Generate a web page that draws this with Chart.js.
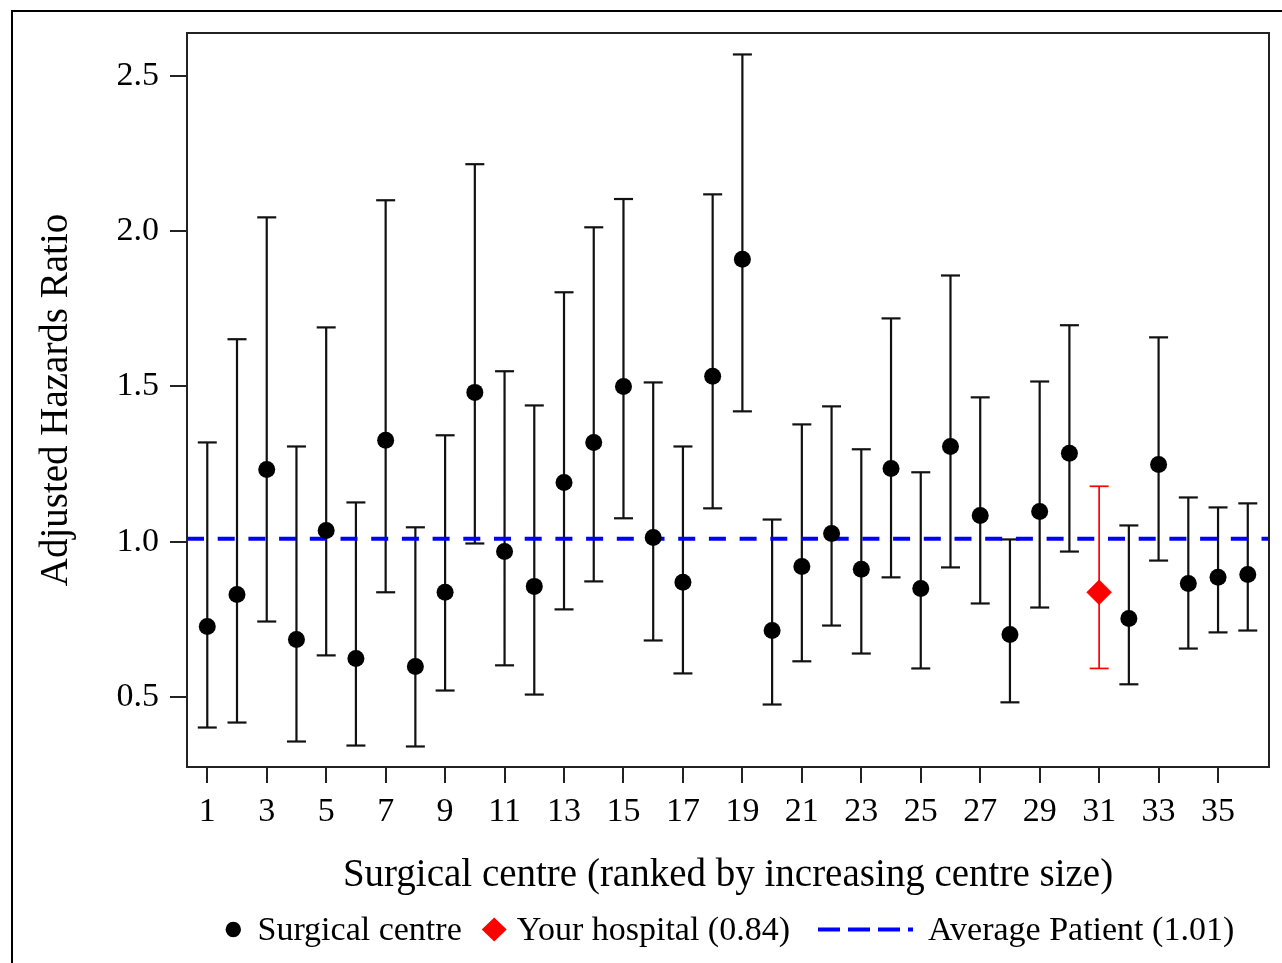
<!DOCTYPE html>
<html>
<head>
<meta charset="utf-8">
<script src="https://cdn.jsdelivr.net/npm/chart.js@4.4.0/dist/chart.umd.min.js"></script>
<style>
html,body{margin:0;padding:0;background:#fff;overflow:hidden;width:1282px;height:963px;}
#frame{position:absolute;left:11px;top:10px;width:1400px;height:1100px;border:2px solid #000;box-sizing:border-box;}
#wrap{position:absolute;left:0;top:0;width:1282px;height:963px;}
</style>
</head>
<body>
<div id="frame"></div>
<div id="wrap"><canvas id="c" width="1282" height="963"></canvas></div>
<script>
// ---- data ----
const centres = [1,2,3,4,5,6,7,8,9,10,11,12,13,14,15,16,17,18,19,20,21,22,23,24,25,26,27,28,29,30,31,32,33,34,35,36];
const hazardRatio = [0.728,0.831,1.233,0.686,1.037,0.625,1.327,0.599,0.838,1.481,0.969,0.857,1.191,1.320,1.500,1.014,0.870,1.533,1.909,0.715,0.921,1.027,0.912,1.236,0.850,1.307,1.085,0.702,1.098,1.285,0.838,0.754,1.249,0.866,0.886,0.895];
const lowerCI = [0.403,0.419,0.744,0.358,0.635,0.345,0.838,0.342,0.522,0.995,0.603,0.509,0.783,0.873,1.076,0.683,0.577,1.108,1.420,0.477,0.616,0.731,0.641,0.886,0.593,0.918,0.802,0.484,0.789,0.969,0.593,0.542,0.940,0.657,0.709,0.715];
const upperCI = [1.320,1.652,2.044,1.307,1.690,1.127,2.099,1.047,1.343,2.215,1.549,1.439,1.803,2.012,2.103,1.513,1.307,2.118,2.568,1.072,1.378,1.436,1.298,1.719,1.224,1.857,1.465,1.008,1.516,1.697,1.179,1.053,1.658,1.143,1.111,1.124];
const hospitalCentre = 31;
const averagePatient = 1.01;
const xTickValues = [1,3,5,7,9,11,13,15,17,19,21,23,25,27,29,31,33,35];
const yTickValues = [0.5,1.0,1.5,2.0,2.5];
const xRange = [0.318, 36.714];
const yRange = [0.276, 2.637];
const seriesLabels = ['Surgical centre', 'Your hospital (0.84)', 'Average Patient (1.01)'];
const xTitle = 'Surgical centre (ranked by increasing centre size)';
const yTitle = 'Adjusted Hazards Ratio';

// ---- build datasets ----
const FONT = "'Liberation Serif', 'Times New Roman', serif";
const blackWhisk = [], redWhisk = [], blackPts = [], redPts = [];
centres.forEach((c, i) => {
  const seg = [{x: c, y: lowerCI[i]}, {x: c, y: upperCI[i]}, {x: c, y: null}];
  if (c === hospitalCentre) { redWhisk.push(...seg); redPts.push({x: c, y: hazardRatio[i]}); }
  else { blackWhisk.push(...seg); blackPts.push({x: c, y: hazardRatio[i]}); }
});

const frameAndLegend = {
  id: 'frameAndLegend',
  afterDraw(chart) {
    const {ctx, chartArea: a} = chart;
    ctx.save();
    ctx.strokeStyle = '#222';
    ctx.lineWidth = 2;
    ctx.strokeRect(a.left, a.top, a.right - a.left, a.bottom - a.top);
    // legend
    ctx.font = '34px ' + FONT;
    const w = seriesLabels.map(t => ctx.measureText(t).width);
    let x = 225.6;
    const cy = 929.5, base = 940;
    // circle
    ctx.fillStyle = '#000';
    ctx.beginPath(); ctx.arc(x + 7.7, cy, 7.7, 0, Math.PI * 2); ctx.fill();
    x += 15.4 + 16.5;
    ctx.textBaseline = 'alphabetic'; ctx.textAlign = 'left';
    ctx.fillText(seriesLabels[0], x, base);
    x += w[0] + 20;
    // diamond
    ctx.fillStyle = '#ff0000';
    ctx.beginPath();
    ctx.moveTo(x, cy); ctx.lineTo(x + 12.5, cy - 12); ctx.lineTo(x + 25, cy); ctx.lineTo(x + 12.5, cy + 12); ctx.closePath(); ctx.fill();
    x += 25 + 10;
    ctx.fillStyle = '#000';
    ctx.fillText(seriesLabels[1], x, base);
    x += w[1] + 28;
    // dashed line
    ctx.strokeStyle = '#0000ff'; ctx.lineWidth = 4; ctx.setLineDash([22, 8]);
    ctx.beginPath(); ctx.moveTo(x, cy); ctx.lineTo(x + 95, cy); ctx.stroke();
    ctx.setLineDash([]);
    x += 95 + 15;
    ctx.fillText(seriesLabels[2], x, base);
    ctx.restore();
  }
};

new Chart(document.getElementById('c'), {
  type: 'scatter',
  data: {
    datasets: [
      {
        label: seriesLabels[0] + ' CI', type: 'line', data: blackWhisk, showLine: true, spanGaps: false,
        borderColor: '#111', borderWidth: 2.2, pointStyle: 'line', pointRadius: 9.5,
        pointBorderColor: '#111', pointBorderWidth: 2.2, pointHoverRadius: 9.5, order: 4
      },
      {
        label: seriesLabels[1] + ' CI', type: 'line', data: redWhisk, showLine: true, spanGaps: false,
        borderColor: '#ff0000', borderWidth: 1.7, pointStyle: 'line', pointRadius: 9.5,
        pointBorderColor: '#ff0000', pointBorderWidth: 1.7, pointHoverRadius: 9.5, order: 3
      },
      {
        label: seriesLabels[2], type: 'line',
        data: [{x: xRange[0], y: averagePatient}, {x: xRange[1], y: averagePatient}],
        borderColor: '#0000ff', borderWidth: 4, borderDash: [17, 13.7], pointRadius: 0, order: 2
      },
      {
        label: seriesLabels[0], data: blackPts, pointStyle: 'circle', pointRadius: 8.5,
        backgroundColor: '#000', borderColor: '#000', pointBorderWidth: 0, order: 1
      },
      {
        label: seriesLabels[1], data: redPts, pointStyle: 'rectRot', pointRadius: 12.5,
        backgroundColor: '#ff0000', borderColor: '#ff0000', pointBorderWidth: 0.5, order: 0
      }
    ]
  },
  options: {
    responsive: false,
    animation: false,
    events: [],
    layout: {padding: {left: 0, top: 33, right: 12, bottom: 63.6}},
    plugins: {legend: {display: false}, tooltip: {enabled: false}},
    scales: {
      x: {
        type: 'linear', position: 'bottom', min: xRange[0], max: xRange[1],
        afterBuildTicks: s => { s.ticks = xTickValues.map(v => ({value: v})); },
        afterFit: s => { s.height = 132.4; },
        ticks: {
          font: {family: FONT, size: 34}, color: '#000', padding: 9,
          autoSkip: false, maxRotation: 0, minRotation: 0, callback: v => String(v)
        },
        grid: {display: true, drawOnChartArea: false, drawTicks: true, tickLength: 16, color: '#222', lineWidth: 2},
        border: {display: false},
        title: {display: true, text: xTitle, font: {family: FONT, size: 39}, color: '#000', padding: {top: 0, bottom: 0}}
      },
      y: {
        type: 'linear', position: 'left', min: yRange[0], max: yRange[1],
        afterBuildTicks: s => { s.ticks = yTickValues.map(v => ({value: v})); },
        afterFit: s => { s.width = 187; },
        ticks: {font: {family: FONT, size: 34}, color: '#000', padding: 11, callback: v => Number(v).toFixed(1)},
        grid: {display: true, drawOnChartArea: false, drawTicks: true, tickLength: 17, color: '#222', lineWidth: 2},
        border: {display: false},
        title: {display: true, text: yTitle, font: {family: FONT, size: 39}, color: '#000', padding: {top: 33, bottom: 0}}
      }
    }
  },
  plugins: [frameAndLegend]
});
</script>
</body>
</html>
